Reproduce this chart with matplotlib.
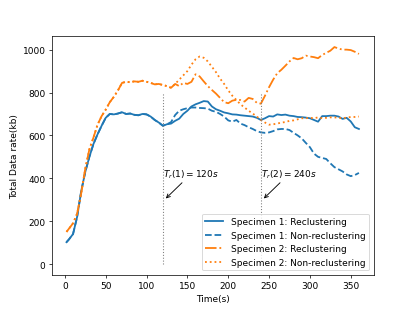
import numpy as np
import matplotlib
matplotlib.use('Agg')
import matplotlib.pyplot as plt

t = [2, 5, 10, 15, 20, 25, 30, 35, 40, 45, 50, 55, 60, 65, 70, 75, 80, 85, 90, 95,
     100, 105, 110, 115, 120, 125, 130, 135, 140, 145, 150, 155, 160, 165, 170, 175,
     180, 185, 190, 195, 200, 205, 210, 215, 220, 225, 230, 235, 240, 245, 250, 255,
     260, 265, 270, 275, 280, 285, 290, 295, 300, 305, 310, 315, 320, 325, 330, 335,
     340, 345, 350, 355, 360]

# specimen 1, reclustering
s1_re = [102, 115, 140, 220, 340, 430, 500, 560, 605, 645, 682, 700, 698, 702, 708, 700,
         702, 696, 694, 700, 698, 688, 672, 660, 645, 652, 655, 668, 678, 700, 715, 735,
         745, 752, 760, 758, 735, 722, 715, 707, 703, 698, 697, 694, 692, 690, 688, 682,
         672, 680, 690, 688, 698, 695, 697, 692, 690, 686, 685, 683, 680, 672, 664, 690,
         690, 692, 692, 688, 677, 682, 665, 638, 630]
# specimen 1, non-reclustering
s1_non = [102, 115, 140, 220, 340, 430, 500, 560, 605, 645, 682, 700, 698, 702, 708, 700,
          702, 696, 694, 700, 698, 688, 672, 660, 645, 652, 662, 695, 715, 722, 727, 730,
          730, 728, 727, 725, 715, 710, 700, 688, 670, 664, 672, 655, 648, 638, 630, 620,
          614, 612, 614, 620, 628, 630, 630, 625, 612, 600, 586, 565, 545, 515, 500, 495,
          490, 470, 452, 442, 432, 418, 410, 415, 425]
# specimen 2, reclustering
s2_re = [150, 165, 190, 235, 330, 445, 535, 590, 650, 690, 720, 755, 780, 810, 845, 850,
         848, 852, 850, 855, 850, 845, 838, 840, 835, 830, 822, 840, 830, 845, 840, 850,
         885, 875, 852, 830, 812, 795, 775, 755, 750, 762, 766, 765, 758, 775, 770, 752,
         748, 785, 825, 860, 890, 906, 925, 945, 961, 955, 960, 972, 968, 965, 960, 975,
         985, 995, 1012, 1005, 1000, 1000, 998, 990, 980]
# specimen 2, non-reclustering
s2_non = [150, 165, 190, 235, 330, 445, 535, 590, 650, 690, 720, 755, 780, 810, 845, 850,
          848, 852, 850, 855, 850, 845, 838, 840, 835, 830, 822, 840, 860, 880, 900, 930,
          955, 968, 962, 945, 920, 895, 865, 840, 810, 785, 765, 745, 730, 715, 702, 688,
          672, 660, 650, 652, 655, 660, 662, 668, 670, 675, 680, 680, 682, 680, 684, 680,
          682, 684, 684, 682, 680, 683, 686, 686, 688]

t_recluster = [120, 240]

fig, ax = plt.subplots(figsize=(6.4, 4.78), dpi=64.85)

ax.plot(t, s1_re, '-', color='C0', lw=2, label='Specimen 1: Reclustering')
ax.plot(t, s1_non, '--', color='C0', lw=2, label='Specimen 1: Non-reclustering')
ax.plot(t, s2_re, '-.', color='C1', lw=2, label='Specimen 2: Reclustering')
ax.plot(t, s2_non, ':', color='C1', lw=2, label='Specimen 2: Non-reclustering')

for i, tr in enumerate(t_recluster):
    ax.plot([tr, tr], [0, 800], ':', color='gray', lw=1.2)
    ax.text(tr + 0.5, 410, r'$T_r(%d) = %ds$' % (i + 1, tr), fontsize=10)
    ax.annotate('', xy=(tr + 2, 300), xytext=(tr + 25, 385),
                arrowprops=dict(arrowstyle='->', color='black'))

ax.set_xlabel('Time(s)')
ax.set_ylabel('Total Data rate(kb)')
ax.legend(loc='lower right')

plt.savefig('out.png')
